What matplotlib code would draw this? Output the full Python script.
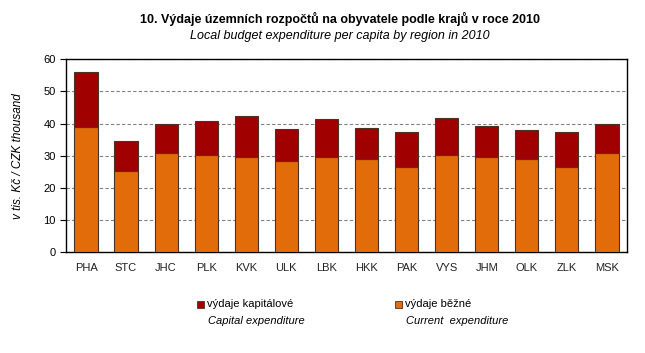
import numpy as np
import matplotlib.pyplot as plt
from matplotlib.patches import Rectangle

regions = ["PHA", "STC", "JHC", "PLK", "KVK", "ULK", "LBK",
           "HKK", "PAK", "VYS", "JHM", "OLK", "ZLK", "MSK"]
current = [39.0, 25.4, 31.0, 30.3, 29.7, 28.5, 29.7,
           28.9, 26.6, 30.2, 29.7, 28.9, 26.6, 30.8]
total = [56.0, 34.6, 39.8, 40.7, 42.3, 38.2, 41.3,
         38.5, 37.3, 41.7, 39.2, 37.9, 37.3, 39.8]
capital = [t - c for t, c in zip(total, current)]

col_current = "#E36C0A"
col_capital = "#A00000"
edge = "#4a3228"

plt.rcParams['font.family'] = ['Liberation Sans', 'DejaVu Sans']

fig = plt.figure(figsize=(6.45, 3.53), dpi=100)
ax = fig.add_axes([0.1023, 0.2853, 0.8697, 0.5467])

x = np.arange(len(regions))
ax.bar(x, current, width=0.58, color=col_current, edgecolor=edge, linewidth=0.8, zorder=3)
ax.bar(x, capital, width=0.58, bottom=current, color=col_capital, edgecolor=edge, linewidth=0.8, zorder=3)

ax.set_xlim(-0.5, len(regions) - 0.5)
ax.set_ylim(0, 60)
ax.set_yticks(range(0, 61, 10))
ax.set_xticks(x)
ax.set_xticklabels(regions)
ax.tick_params(axis='x', length=0, pad=8, labelsize=8, colors='#222222')
ax.tick_params(axis='y', direction='out', length=4, width=0.8, labelsize=8, colors='black')
ax.yaxis.grid(True, linestyle=(0, (3, 2)), color='#808080', linewidth=0.8, zorder=0)
for s in ax.spines.values():
    s.set_linewidth(1.0)
    s.set_color('black')

ax.set_ylabel("v tis. Kč / CZK thousand", fontstyle='italic', fontsize=8.5, labelpad=14)

fig.text(0.527, 0.946, "10. Výdaje územních rozpočtů na obyvatele podle krajů v roce 2010",
         ha='center', va='center', fontsize=9, fontweight='bold')
fig.text(0.527, 0.899, "Local budget expenditure per capita by region in 2010",
         ha='center', va='center', fontsize=9, fontstyle='italic')

# legend
W, H = 645, 353
legend_items = [(197, col_capital, "výdaje kapitálové", "Capital expenditure"),
                (395, col_current, "výdaje běžné", "Current  expenditure")]
for px, col, cz, en in legend_items:
    fig.add_artist(Rectangle((px / W, 1 - 308 / H), 7 / W, 7 / H,
                             transform=fig.transFigure, facecolor=col,
                             edgecolor=edge, linewidth=0.6))
    fig.text((px + 10) / W, 1 - 304 / H, cz, ha='left', va='center', fontsize=8)
    fig.text((px + 11) / W, 1 - 321.5 / H, en, ha='left', va='center',
             fontsize=8, fontstyle='italic')

fig.savefig("out.png", dpi=100)
